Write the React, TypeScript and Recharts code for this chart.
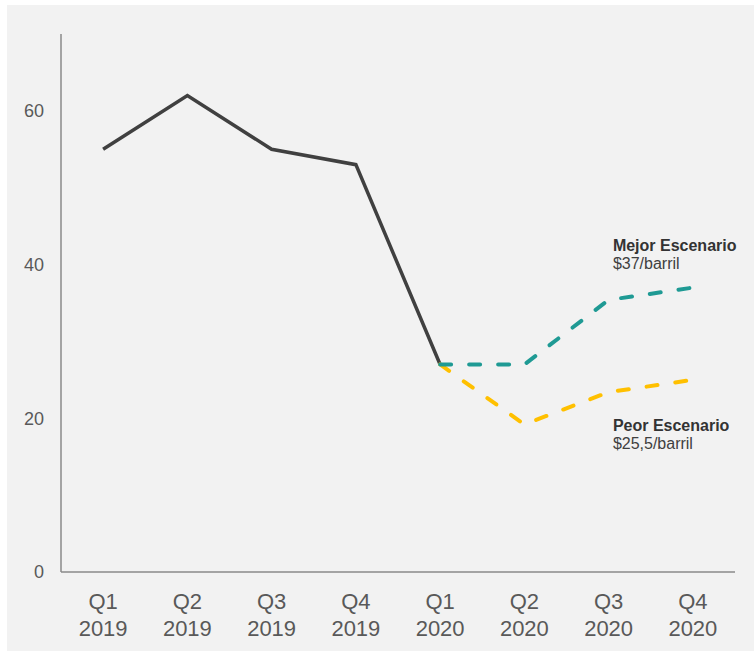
import { LineChart, Line, XAxis, YAxis, ReferenceDot } from 'recharts';

const quarters = ['Q1', 'Q2', 'Q3', 'Q4', 'Q1', 'Q2', 'Q3', 'Q4'];
const years = ['2019', '2019', '2019', '2019', '2020', '2020', '2020', '2020'];
const actual = [55, 62, 55, 53, 27, null, null, null];
const mejor = [null, null, null, null, 27, 27, 35.4, 37];
const peor = [null, null, null, null, 27, 19.2, 23.4, 25];
const yTicks = [0, 20, 40, 60];

const data = quarters.map((q, i) => ({
  cat: `${q} ${years[i]}`,
  q,
  year: years[i],
  actual: actual[i],
  mejor: mejor[i],
  peor: peor[i],
}));

const FONT = '"Liberation Sans", Arial, sans-serif';
const TEXT = '#595959';
const AXIS = '#8a8a8a';

function XTick(props: any) {
  const { x, y, index } = props;
  return (
    <g>
      <text x={x} y={y + 37} textAnchor="middle" fontSize={22} fill={TEXT} fontFamily={FONT}>
        {quarters[index]}
      </text>
      <text x={x} y={y + 64} textAnchor="middle" fontSize={22} fill={TEXT} fontFamily={FONT}>
        {years[index]}
      </text>
    </g>
  );
}

function scenarioLabel(title: string, sub: string, dy: number) {
  return (props: any) => {
    const vb = props.viewBox || {};
    const x = (vb.x ?? 0) + (vb.width ?? 0) / 2 - 80;
    const y = (vb.y ?? 0) + (vb.height ?? 0) / 2 + dy;
    return (
      <g>
        <text x={x} y={y} fontSize={16} fontWeight="bold" fill="#333333" fontFamily={FONT}>
          {title}
        </text>
        <text x={x} y={y + 18} fontSize={16} fill="#404040" fontFamily={FONT}>
          {sub}
        </text>
      </g>
    );
  };
}

export default function App() {
  return (
    <div style={{ position: 'fixed', left: 0, top: 0, width: 754, height: 653, background: '#ffffff' }}>
      <div style={{ position: 'absolute', left: 7, top: 5, width: 747, height: 646, background: '#f2f2f2' }}>
        <LineChart width={747} height={646} data={data} margin={{ top: 29, right: 19, bottom: 0, left: 0 }}>
          <XAxis
            dataKey="cat"
            scale="band"
            height={79}
            tickLine={false}
            tickSize={0}
            tickMargin={0}
            axisLine={{ stroke: AXIS, strokeWidth: 1.5 }}
            tick={<XTick />}
            interval={0}
          />
          <YAxis
            width={54}
            domain={[0, 70]}
            ticks={yTicks}
            tickLine={false}
            tickSize={0}
            tickMargin={17}
            axisLine={{ stroke: AXIS, strokeWidth: 1.5 }}
            tick={{ fontSize: 18, fill: TEXT, fontFamily: FONT }}
          />
          <Line
            dataKey="actual"
            stroke="#404040"
            strokeWidth={3.5}
            dot={false}
            type="linear"
            isAnimationActive={false}
          />
          <Line
            dataKey="peor"
            stroke="#ffc000"
            strokeWidth={4}
            strokeDasharray="11 18"
            strokeLinecap="round"
            dot={false}
            type="linear"
            isAnimationActive={false}
          />
          <Line
            dataKey="mejor"
            stroke="#1f9a94"
            strokeWidth={4}
            strokeDasharray="11 18"
            strokeLinecap="round"
            dot={false}
            type="linear"
            isAnimationActive={false}
          />
          <ReferenceDot
            x="Q4 2020"
            y={37}
            r={0}
            fill="none"
            stroke="none"
            label={scenarioLabel('Mejor Escenario', '$37/barril', -37)}
          />
          <ReferenceDot
            x="Q4 2020"
            y={25}
            r={0}
            fill="none"
            stroke="none"
            label={scenarioLabel('Peor Escenario', '$25,5/barril', 51)}
          />
        </LineChart>
      </div>
    </div>
  );
}
